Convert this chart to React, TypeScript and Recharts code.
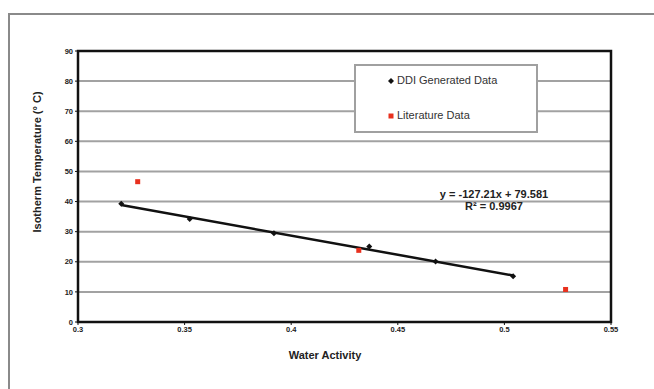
import { ScatterChart, Scatter, XAxis, YAxis, CartesianGrid, ReferenceArea, Legend, Customized } from 'recharts';

// DDI generated data (water activity vs isotherm temperature)
const ddiAw = [0.3203, 0.3524, 0.3919, 0.4366, 0.4677, 0.5041];
const ddiTemp = [39.3, 34.2, 29.5, 25.1, 20.1, 15.2];

// literature data
const litAw = [0.328, 0.4317, 0.5287];
const litTemp = [46.6, 23.8, 10.8];

// linear fit shown on the chart
const slope = -127.21;
const intercept = 79.581;
const rSquared = 0.9967;

const xTicks = [0.3, 0.35, 0.4, 0.45, 0.5, 0.55];
const yTicks = [0, 10, 20, 30, 40, 50, 60, 70, 80, 90];

const ddiData = ddiAw.map((x, i) => ({ x, y: ddiTemp[i] }));
const litData = litAw.map((x, i) => ({ x, y: litTemp[i] }));
const fitX = [Math.min(...ddiAw), Math.max(...ddiAw)];
const fitData = fitX.map((x) => ({ x, y: slope * x + intercept }));

const FONT = '"Liberation Sans", Arial, sans-serif';

const Diamond = (props: any) => {
  const { cx, cy } = props;
  const r = 3;
  return <polygon points={`${cx},${cy - r} ${cx + r},${cy} ${cx},${cy + r} ${cx - r},${cy}`} fill="#111" />;
};

const Square = (props: any) => {
  const { cx, cy } = props;
  return <rect x={cx - 2.5} y={cy - 2.5} width={5} height={5} fill="#e8301e" />;
};

const NoDot = () => <g />;

function LegendBox() {
  return (
    <div
      style={{
        width: 180,
        height: 65,
        background: '#fff',
        border: '2px solid #a0a0a0',
        fontFamily: FONT,
        fontSize: 11,
        color: '#333',
        position: 'relative',
      }}
    >
      <svg width={10} height={10} style={{ position: 'absolute', left: 30, top: 10 }}>
        <Diamond cx={5} cy={5} />
      </svg>
      <span style={{ position: 'absolute', left: 41, top: 8 }}>DDI Generated Data</span>
      <svg width={10} height={10} style={{ position: 'absolute', left: 30, top: 45 }}>
        <Square cx={5} cy={5} />
      </svg>
      <span style={{ position: 'absolute', left: 41, top: 43 }}>Literature Data</span>
    </div>
  );
}

function Labels() {
  return (
    <g fontFamily={FONT} fontWeight="bold" fontSize={11} fill="#222">
      <text x={325} y={359} textAnchor="middle">Water Activity</text>
      <text x={41} y={162} textAnchor="middle" transform="rotate(-90 41 162)">
        Isotherm Temperature (° C)
      </text>
      <text x={494} y={198} textAnchor="middle">{`y = ${slope}x + ${intercept}`}</text>
      <text x={494} y={210} textAnchor="middle">
        R² = {rSquared}
      </text>
    </g>
  );
}

export default function App() {
  return (
    <div style={{ position: 'absolute', left: 0, top: 0, width: 654, height: 389, background: '#fff', overflow: 'hidden' }}>
      <div
        style={{
          position: 'absolute',
          left: 8,
          top: 13,
          width: 700,
          height: 420,
          borderTop: '2px solid #8a8a8a',
          borderLeft: '2px solid #8a8a8a',
        }}
      />
      <div style={{ position: 'absolute', left: 0, top: 0 }}>
        <ScatterChart width={654} height={389} margin={{ top: 51, right: 43, bottom: 37, left: 0 }}>
          <CartesianGrid horizontal vertical={false} stroke="#a2a2a2" strokeWidth={2} />
          <XAxis
            type="number"
            dataKey="x"
            domain={[0.3, 0.55]}
            ticks={xTicks}
            height={30}
            tickSize={3}
            tickMargin={2}
            stroke="#111"
            axisLine={false}
            tick={{ fontSize: 7.5, fontFamily: FONT, fontWeight: 'bold', fill: '#222' }}
            allowDataOverflow
          />
          <YAxis
            type="number"
            dataKey="y"
            domain={[0, 90]}
            ticks={yTicks}
            width={78}
            tickSize={3}
            tickMargin={2}
            stroke="#111"
            axisLine={false}
            tick={{ fontSize: 7.5, fontFamily: FONT, fontWeight: 'bold', fill: '#222' }}
            allowDataOverflow
          />
          <ReferenceArea x1={0.3} x2={0.55} y1={0} y2={90} fill="none" stroke="#111" strokeWidth={2.5} ifOverflow="visible" />
          <Legend
            layout="vertical"
            align="center"
            verticalAlign="middle"
            content={() => <LegendBox />}
            wrapperStyle={{ position: 'absolute', left: 354, top: 64, width: 184, height: 69 }}
          />
          <Scatter
            name="fit"
            data={fitData}
            line={{ stroke: '#111', strokeWidth: 2.5 }}
            shape={NoDot}
            legendType="none"
            isAnimationActive={false}
          />
          <Scatter name="DDI Generated Data" data={ddiData} shape={Diamond} isAnimationActive={false} />
          <Scatter name="Literature Data" data={litData} shape={Square} isAnimationActive={false} />
          <Customized component={Labels} />
        </ScatterChart>
      </div>
    </div>
  );
}
